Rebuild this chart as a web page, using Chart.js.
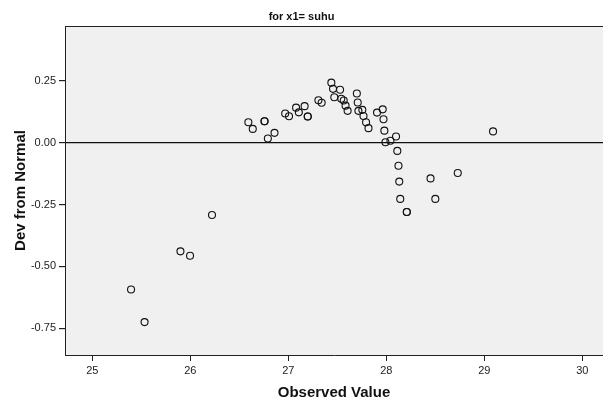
<!DOCTYPE html>
<html>
<head>
<meta charset="utf-8">
<title>Detrended Normal Q-Q Plot</title>
<script src="https://cdn.jsdelivr.net/npm/chart.js@4/dist/chart.umd.min.js"></script>
<style>
  html, body { margin: 0; padding: 0; background: #fff; }
  #wrap { width: 603px; height: 403px; }
</style>
</head>
<body>
<div id="wrap"><canvas id="chart"></canvas></div>
<script>
// ── Data ─────────────────────────────────────
const observed = [
  25.395, 25.533, 25.899, 25.997, 26.221, 26.592, 26.637, 26.757, 26.757, 26.791,
  26.859, 26.968, 27.007, 27.079, 27.107, 27.166, 27.198, 27.198, 27.307, 27.340,
  27.439, 27.456, 27.528, 27.469, 27.540, 27.565, 27.584, 27.605, 27.699, 27.708,
  27.715, 27.755, 27.767, 27.793, 27.818, 27.905, 27.963, 27.971, 27.980, 27.991,
  28.042, 28.099, 28.112, 28.124, 28.132, 28.142, 28.209, 28.209, 28.451, 28.500,
  28.729, 29.089
];
const devFromNormal = [
  -0.593, -0.725, -0.439, -0.457, -0.292, 0.083, 0.056, 0.087, 0.087, 0.017,
  0.040, 0.118, 0.107, 0.142, 0.123, 0.148, 0.106, 0.106, 0.172, 0.162,
  0.243, 0.218, 0.214, 0.184, 0.178, 0.171, 0.150, 0.129, 0.199, 0.163,
  0.129, 0.133, 0.108, 0.083, 0.059, 0.122, 0.135, 0.095, 0.049, 0.002,
  0.008, 0.025, -0.033, -0.093, -0.157, -0.227, -0.280, -0.280, -0.144, -0.227,
  -0.122, 0.046
];
const xTicks = [25, 26, 27, 28, 29, 30];
const yTicks = [-0.75, -0.5, -0.25, 0, 0.25];

const FONT = "'Liberation Sans', Arial, sans-serif";

// ── Plot background + frame ──────────────────
const plotFrame = {
  id: 'plotFrame',
  beforeDraw(chart) {
    const { ctx, chartArea: a } = chart;
    ctx.save();
    ctx.fillStyle = '#f0f0f0';
    ctx.fillRect(a.left, a.top, a.right - a.left, a.bottom - a.top);
    ctx.restore();
  },
  afterDraw(chart) {
    const { ctx, chartArea: a } = chart;
    ctx.save();
    ctx.strokeStyle = '#222';
    ctx.lineWidth = 1;
    ctx.beginPath();
    ctx.moveTo(a.left, a.top + 0.5);
    ctx.lineTo(a.right, a.top + 0.5);
    ctx.stroke();
    ctx.restore();
  }
};

// ── Chart ────────────────────────────────────
new Chart(document.getElementById('chart'), {
  type: 'scatter',
  data: {
    datasets: [{
      data: observed.map((x, i) => ({ x, y: devFromNormal[i] })),
      pointStyle: 'circle',
      pointRadius: 3.5,
      pointBorderWidth: 1.1,
      pointBorderColor: '#111',
      pointBackgroundColor: 'rgba(0,0,0,0)'
    }]
  },
  options: {
    responsive: true,
    maintainAspectRatio: false,
    animation: false,
    layout: { padding: 0, autoPadding: false },
    plugins: {
      legend: { display: false },
      tooltip: { enabled: false },
      title: {
        display: true,
        text: 'for x1= suhu',
        color: '#111',
        font: { family: FONT, size: 11, weight: 'bold' },
        padding: { top: 10.5, bottom: 2.3 }
      }
    },
    scales: {
      x: {
        type: 'linear',
        min: 24.721, max: 30.211,
        afterBuildTicks: s => { s.ticks = xTicks.map(v => ({ value: v })); },
        afterFit: s => { s.height = 48; s.paddingLeft = 0; s.paddingRight = 0; },
        border: { display: true, color: '#222', width: 1 },
        grid: { drawOnChartArea: false, tickLength: 6, tickColor: '#222' },
        ticks: { color: '#222', font: { family: FONT, size: 11 }, padding: 3, maxRotation: 0 },
        title: {
          display: true,
          text: 'Observed Value',
          color: '#111',
          font: { family: FONT, size: 15, weight: 'bold' },
          padding: { top: 0, bottom: 1 }
        }
      },
      y: {
        type: 'linear',
        min: -0.858, max: 0.472,
        afterBuildTicks: s => { s.ticks = yTicks.map(v => ({ value: v })); },
        afterFit: s => { s.width = 65; },
        border: { display: true, color: '#222', width: 1 },
        grid: {
          drawOnChartArea: true,
          color: c => (c.tick && c.tick.value === 0 ? '#111' : 'rgba(0,0,0,0)'),
          lineWidth: 1.2,
          tickLength: 6,
          tickColor: '#222'
        },
        ticks: {
          color: '#222',
          font: { family: FONT, size: 11 },
          padding: 3,
          callback: v => v.toFixed(2)
        },
        title: {
          display: true,
          text: 'Dev from Normal',
          color: '#111',
          font: { family: FONT, size: 15, weight: 'bold' },
          padding: { top: 12, bottom: 0 }
        }
      }
    }
  },
  plugins: [plotFrame]
});
</script>
</body>
</html>
